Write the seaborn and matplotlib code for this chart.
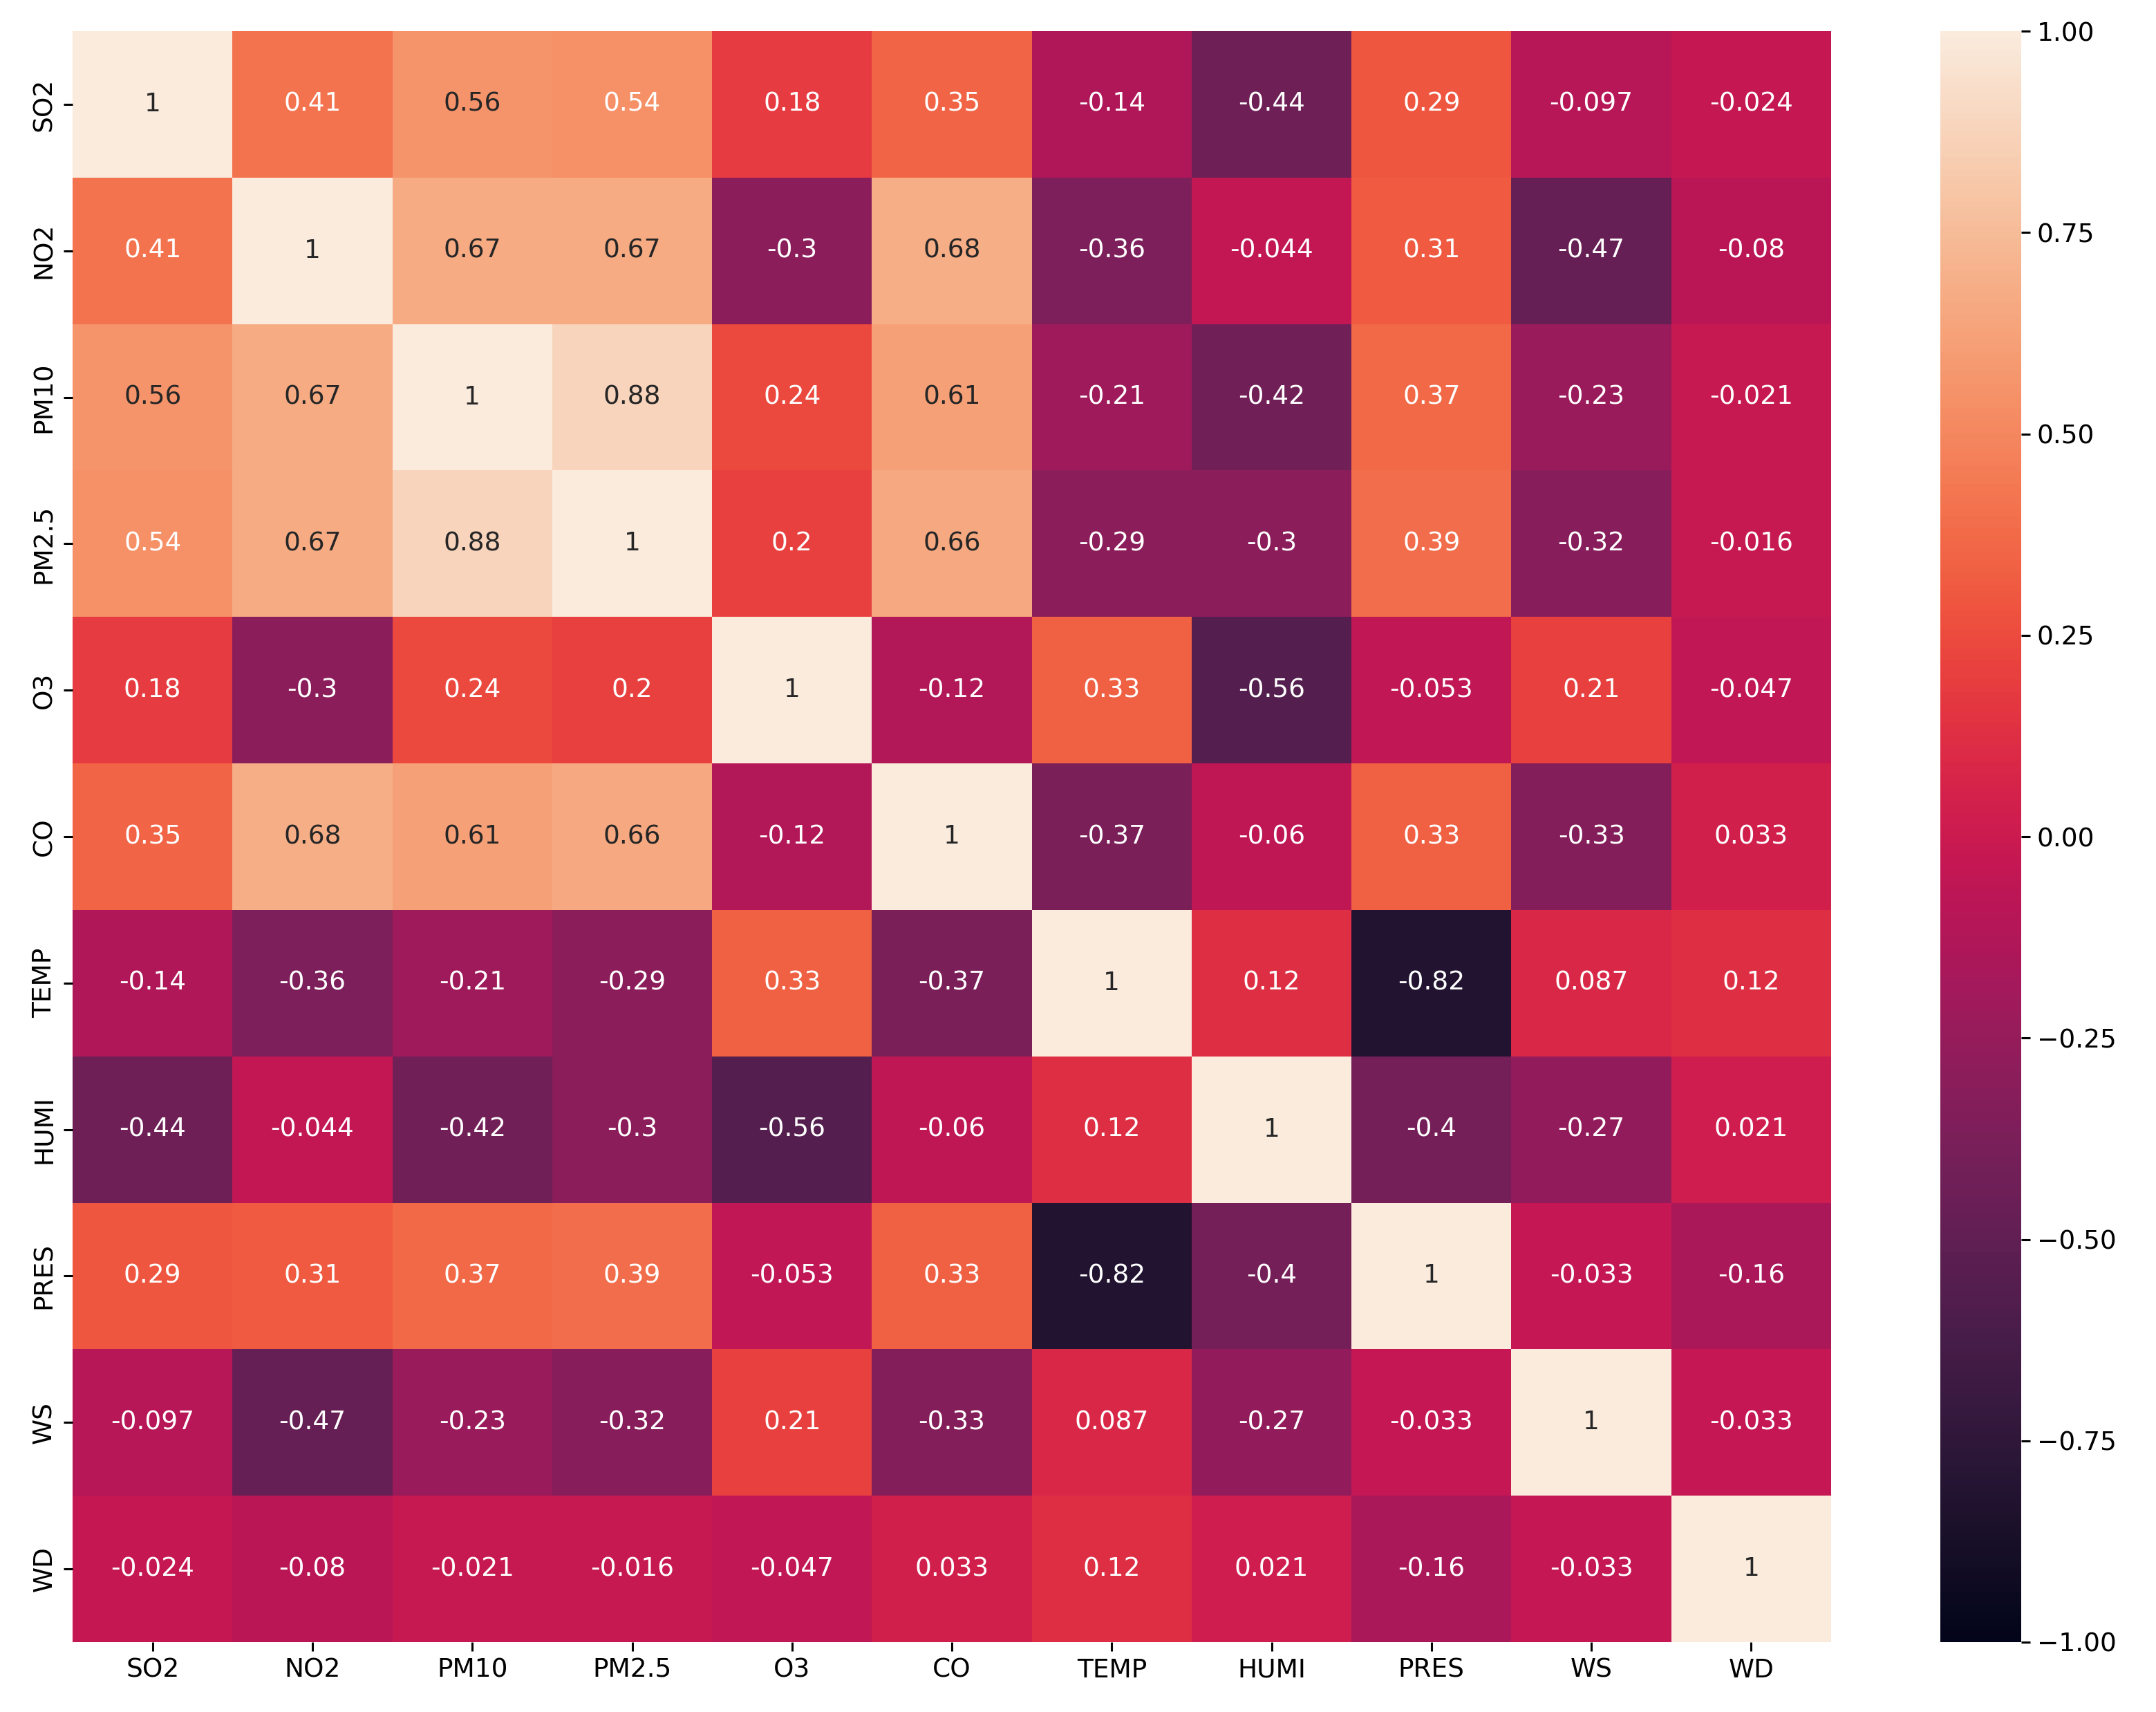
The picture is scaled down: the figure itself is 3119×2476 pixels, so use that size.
import matplotlib
matplotlib.use("Agg")
import matplotlib.pyplot as plt
import seaborn as sns
import pandas as pd
import numpy as np

labels = ["SO2", "NO2", "PM10", "PM2.5", "O3", "CO", "TEMP", "HUMI", "PRES", "WS", "WD"]

row_so2 = [1, 0.41, 0.56, 0.54, 0.18, 0.35, -0.14, -0.44, 0.29, -0.097, -0.024]
row_no2 = [0.41, 1, 0.67, 0.67, -0.3, 0.68, -0.36, -0.044, 0.31, -0.47, -0.08]
row_pm10 = [0.56, 0.67, 1, 0.88, 0.24, 0.61, -0.21, -0.42, 0.37, -0.23, -0.021]
row_pm25 = [0.54, 0.67, 0.88, 1, 0.2, 0.66, -0.29, -0.3, 0.39, -0.32, -0.016]
row_o3 = [0.18, -0.3, 0.24, 0.2, 1, -0.12, 0.33, -0.56, -0.053, 0.21, -0.047]
row_co = [0.35, 0.68, 0.61, 0.66, -0.12, 1, -0.37, -0.06, 0.33, -0.33, 0.033]
row_temp = [-0.14, -0.36, -0.21, -0.29, 0.33, -0.37, 1, 0.12, -0.82, 0.087, 0.12]
row_humi = [-0.44, -0.044, -0.42, -0.3, -0.56, -0.06, 0.12, 1, -0.4, -0.27, 0.021]
row_pres = [0.29, 0.31, 0.37, 0.39, -0.053, 0.33, -0.82, -0.4, 1, -0.033, -0.16]
row_ws = [-0.097, -0.47, -0.23, -0.32, 0.21, -0.33, 0.087, -0.27, -0.033, 1, -0.033]
row_wd = [-0.024, -0.08, -0.021, -0.016, -0.047, 0.033, 0.12, 0.021, -0.16, -0.033, 1]

rows = [row_so2, row_no2, row_pm10, row_pm25, row_o3, row_co,
        row_temp, row_humi, row_pres, row_ws, row_wd]
df = pd.DataFrame(rows, index=labels, columns=labels)

fs = 13.5
fig = plt.figure(figsize=(15.595, 12.38), dpi=200)
ax = fig.add_axes([0.0337, 0.0408, 0.8156, 0.941])
cax = fig.add_axes([0.9000, 0.0408, 0.0375, 0.941])
sns.heatmap(df, annot=True, vmin=-1, vmax=1, ax=ax, cbar_ax=cax,
            annot_kws={"fontsize": fs})
for a in (ax, cax):
    a.tick_params(labelsize=fs, length=4.7, width=1.1)
fig.savefig("out.png", dpi=200)
